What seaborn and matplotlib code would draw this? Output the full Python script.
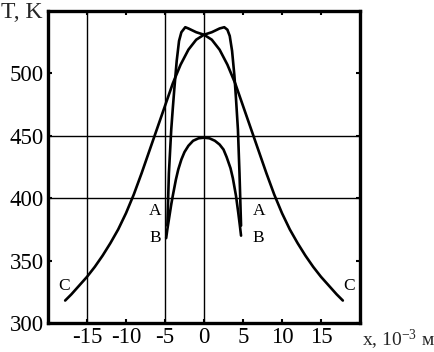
import numpy as np
import pandas as pd
import seaborn as sns
import matplotlib.pyplot as plt

# curve A (flat top with two humps)
a_x = [-4.7, -4.5, -4.2, -4.0, -3.8, -3.5, -3.2, -2.9, -2.4, -2.0, -1.0, 0.0,
       1.0, 2.0, 2.6, 3.0, 3.3, 3.6, 3.9, 4.1, 4.35, 4.55, 4.75]
a_t = [378, 420, 455, 472, 488, 510, 526, 533, 537, 536, 533, 531,
       533, 536, 537, 535, 530, 518, 498, 480, 455, 420, 378]

# curve B (low dome)
b_x = [-4.85, -4.7, -4.5, -4.2, -4.0, -3.6, -3.3, -2.9, -2.5, -2.0, -1.4, -0.7, 0.0,
       0.7, 1.4, 2.0, 2.5, 2.9, 3.4, 3.7, 4.1, 4.4, 4.6, 4.75]
b_t = [368, 375, 383, 395, 402, 415, 423, 431, 437, 442, 446, 448, 448.5,
       448, 446, 443, 439, 433, 424, 416, 402, 388, 378, 370]

# curve C (broad bell)
c_x = [-17.8, -17, -16, -15, -14, -13, -12, -11, -10, -9, -8, -7, -6, -5, -4, -3, -2, -1, 0,
       1, 2, 3, 4, 5, 6, 7, 8, 9, 10, 11, 12, 13, 14, 15, 16, 17, 17.8]
c_t = [318, 323, 330, 337, 345, 354, 364, 375, 388, 403, 420, 438, 456, 474, 492, 507, 519, 527, 531,
       527, 519, 507, 492, 474, 456, 438, 420, 403, 388, 375, 364, 354, 345, 337, 330, 323, 318]

x_ticks = [-15, -10, -5, 0, 5, 10, 15]
y_ticks = [300, 350, 400, 450, 500]
x_grid = [-15, -5, 0]
y_grid = [400, 450]

df = pd.concat([
    pd.DataFrame({"x": a_x, "T": a_t, "curve": "A"}),
    pd.DataFrame({"x": b_x, "T": b_t, "curve": "B"}),
    pd.DataFrame({"x": c_x, "T": c_t, "curve": "C"}),
], ignore_index=True)

sns.set_style("ticks")
plt.rcParams["font.family"] = ["Liberation Serif", "DejaVu Serif"]
plt.rcParams["axes.unicode_minus"] = False
plt.rcParams["mathtext.fontset"] = "custom"
plt.rcParams["mathtext.rm"] = "Liberation Serif"
plt.rcParams["mathtext.it"] = "Liberation Serif"

fig = plt.figure(figsize=(4.35, 3.52), dpi=100)
ax = fig.add_axes([48 / 435, 29 / 352, 312 / 435, 312 / 352])

for xv in x_grid:
    ax.axvline(xv, color="black", lw=1.0, zorder=1)
for yv in y_grid:
    ax.axhline(yv, color="black", lw=1.0, zorder=1)

for name in ["A", "B", "C"]:
    sns.lineplot(data=df[df["curve"] == name], x="x", y="T", sort=False,
                 color="black", lw=1.9, ax=ax, zorder=3)

ax.set_xlim(-20, 20)
ax.set_ylim(300, 550)
ax.set_xticks(x_ticks)
ax.set_yticks(y_ticks)
ax.set_xlabel("")
ax.set_ylabel("")
ax.tick_params(direction="in", length=3, width=1.5, top=True, right=True,
               labelsize=16.5, pad=3, colors="black")
for s in ax.spines.values():
    s.set_linewidth(2.4)
    s.set_color("black")

lab = dict(fontsize=12.5, color="black", ha="center", va="center")
ax.text(-6.3, 390, "A", **lab)
ax.text(-6.3, 368, "B", **lab)
ax.text(-18.0, 330, "C", **lab)
ax.text(7.0, 390, "A", **lab)
ax.text(7.0, 368, "B", **lab)
ax.text(18.6, 330, "C", **lab)

fig.text(1 / 435, 1 - 13 / 352, "T, K", fontsize=17, ha="left", va="center")
fig.text(362 / 435, 1 - 340 / 352, "x, 10$^{-3}$ м", fontsize=14, ha="left", va="center")

plt.savefig("out.png", dpi=100)
